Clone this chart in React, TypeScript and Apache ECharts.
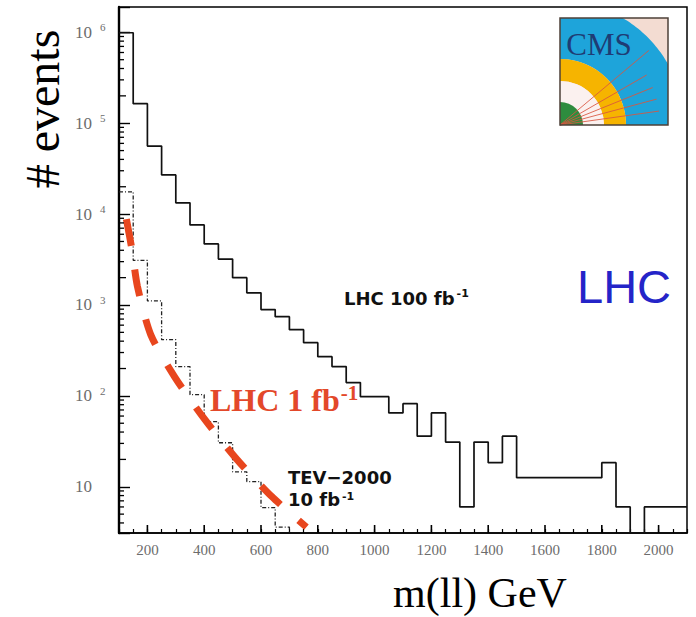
import React, { useEffect, useRef } from 'react';
import * as echarts from 'echarts';

// ---- axis ranges -------------------------------------------------------
const X_MIN = 100;
const X_MAX = 2100;
const BIN_WIDTH = 50; // GeV per histogram bin
const Y_MIN = 3.1;
const Y_MAX = 1.9e6;

// labelled ticks
const xTickLabels = [200, 400, 600, 800, 1000, 1200, 1400, 1600, 1800, 2000];
const yDecades = [10, 100, 1000, 10000, 100000, 1000000];

// ---- data --------------------------------------------------------------
// LHC 100 fb^-1: events per 50 GeV bin, first bin 100-150 GeV (0 = empty bin)
const lhc100Counts = [
  9.9e5, 1.64e5, 5.6e4, 2.7e4, 1.33e4, 7.6e3, 4.7e3, 3.2e3, 2.0e3, 1.36e3,
  890, 743, 535, 385, 270, 210, 140, 98, 98, 65,
  82, 36, 65, 31, 6.0, 31, 18.4, 36, 12.6, 12.6,
  12.6, 12.6, 12.6, 12.6, 18.4, 6.0, 0, 6.0, 6.0, 6.0,
];

// TEV-2000 10 fb^-1: events per 50 GeV bin, first bin 100-150 GeV
const tevCounts = [1.76e4, 3.1e3, 1.11e3, 415, 210, 103, 52, 30.5, 14.6, 11.4, 5.9, 3.6];

// LHC 1 fb^-1 expectation curve
const lhc1Mass = [126, 146, 165, 212, 297, 402, 515, 638, 760];
const lhc1Events = [8800, 4000, 1600, 470, 160, 55, 20, 7.8, 3.6];

// ---- helpers -----------------------------------------------------------
const SERIF = '"Liberation Serif", "DejaVu Serif", serif';
const SANS_W = '"DejaVu Sans", "Liberation Sans", sans-serif';
const SANS = '"Liberation Sans", Arial, sans-serif';
const AXIS_GRAY = '#6c6c6c';

// Histogram outline: one point per left bin edge plus the closing right edge
function stepPoints(counts: number[], closeToFloor: boolean) {
  const pts: number[][] = counts.map((c, i) => [X_MIN + i * BIN_WIDTH, c > 0 ? c : Y_MIN]);
  const last = counts[counts.length - 1];
  const xEnd = X_MIN + counts.length * BIN_WIDTH;
  pts.push([xEnd, last > 0 ? last : Y_MIN]);
  if (closeToFloor) pts.push([xEnd, Y_MIN]);
  return pts;
}

// minor log ticks at 2..9 x 10^k inside the axis range
const yMinorTicks: number[] = [];
for (let k = 0; k <= 6; k++) {
  for (let m = 2; m <= 9; m++) {
    const v = m * Math.pow(10, k);
    if (v > Y_MIN && v < Y_MAX) yMinorTicks.push(v);
  }
}

function isDecade(v: number) {
  const l = Math.log10(v);
  return Math.abs(l - Math.round(l)) < 1e-6 && yDecades.some((d) => Math.abs(Math.log10(d) - l) < 1e-6);
}

// ---- CMS logo geometry -------------------------------------------------
const LOGO = { x: 560, y: 18, w: 108, h: 107 };
const LCX = LOGO.x;
const LCY = LOGO.y + LOGO.h;

function arcPoints(r: number, a0: number, a1: number, n: number) {
  const pts: number[][] = [];
  for (let i = 0; i <= n; i++) {
    const a = ((a0 + ((a1 - a0) * i) / n) * Math.PI) / 180;
    pts.push([LCX + r * Math.cos(a), LCY - r * Math.sin(a)]);
  }
  return pts;
}

function logoElements() {
  const R_OUT = 124;
  const R_IN = 66;
  const aTop = (Math.asin(LOGO.h / R_OUT) * 180) / Math.PI;
  const aRight = (Math.acos(LOGO.w / R_OUT) * 180) / Math.PI;
  const blue = [
    [LOGO.x, LOGO.y],
    ...arcPoints(R_OUT, aTop, aRight, 24),
    [LOGO.x + LOGO.w, LCY],
    ...arcPoints(R_IN, 0, 90, 24),
  ];
  const tracks = [8, 15, 22, 30, 40].map((deg, i) => {
    const a = (deg * Math.PI) / 180;
    const r = i === 4 ? 116 : 100;
    return {
      type: 'line',
      z: 12,
      shape: { x1: LCX, y1: LCY, x2: LCX + r * Math.cos(a), y2: LCY - r * Math.sin(a) },
      style: { stroke: '#d9553e', lineWidth: 1, opacity: 0.85 },
    };
  });
  return [
    { type: 'rect', z: 10, shape: { x: LOGO.x, y: LOGO.y, width: LOGO.w, height: LOGO.h }, style: { fill: '#f3dcd2' } },
    { type: 'polygon', z: 11, shape: { points: blue }, style: { fill: '#1ea4da' } },
    { type: 'sector', z: 11, shape: { cx: LCX, cy: LCY, r0: 44, r: R_IN, startAngle: -Math.PI / 2, endAngle: 0, clockwise: true }, style: { fill: '#f6b400' } },
    { type: 'sector', z: 11, shape: { cx: LCX, cy: LCY, r0: 0, r: 44, startAngle: -Math.PI / 2, endAngle: 0, clockwise: true }, style: { fill: '#fbf1ef' } },
    { type: 'sector', z: 11, shape: { cx: LCX, cy: LCY, r0: 0, r: 23, startAngle: -Math.PI / 2, endAngle: 0, clockwise: true }, style: { fill: '#2e8c3e' } },
    ...tracks,
    {
      type: 'text', z: 13, x: 599, y: 44,
      style: { text: 'CMS', fill: '#1f3c74', fontFamily: SERIF, fontSize: 31, align: 'center', verticalAlign: 'middle', textAlign: 'center', textVerticalAlign: 'middle' },
    },
    { type: 'rect', z: 14, shape: { x: LOGO.x, y: LOGO.y, width: LOGO.w, height: LOGO.h }, style: { fill: 'none', stroke: '#4d4038', lineWidth: 1.5 } },
  ];
}

function buildOption() {
  return {
    animation: false,
    backgroundColor: '#ffffff',
    grid: {
      left: 119, right: 9, top: 7, bottom: 84,
      show: true, borderColor: '#000', borderWidth: 1.5,
      containLabel: false, outerBoundsMode: 'none',
    },
    xAxis: {
      type: 'value', min: X_MIN, max: X_MAX, interval: BIN_WIDTH,
      axisLine: { show: true, lineStyle: { color: '#000', width: 1.6 } },
      axisTick: { show: true, inside: true, length: 4, lineStyle: { color: '#000', width: 1.2 } },
      axisLabel: {
        formatter: (v: number) => (xTickLabels.includes(v) ? String(v) : ''),
        fontFamily: SERIF, fontSize: 15, color: AXIS_GRAY, margin: 9,
      },
      splitLine: { show: false },
    },
    yAxis: {
      type: 'log', logBase: 10, min: Y_MIN, max: Y_MAX,
      axisLine: { show: true, lineStyle: { color: '#000', width: 2.4 } },
      axisTick: { show: true, inside: true, length: 11, lineStyle: { color: '#000', width: 1.4 } },
      axisLabel: {
        align: 'left', margin: 44,
        formatter: (v: number) => {
          if (!isDecade(v)) return '';
          const e = Math.round(Math.log10(v));
          return e === 1 ? '{b|10}' : `{b|10}{s|${e}}`;
        },
        rich: {
          b: { fontFamily: SERIF, fontSize: 17, color: AXIS_GRAY },
          s: { fontFamily: SERIF, fontSize: 11, color: AXIS_GRAY, padding: [0, 0, 10, 8] },
        },
      },
      splitLine: { show: false },
    },
    series: [
      {
        name: 'LHC 100 fb-1', type: 'line', step: 'end', z: 3,
        data: stepPoints(lhc100Counts, false),
        showSymbol: false, symbol: 'none', clip: true,
        lineStyle: { color: '#111', width: 1.7 },
      },
      {
        name: 'TEV-2000 10 fb-1', type: 'line', step: 'end', z: 3,
        data: stepPoints(tevCounts, true),
        showSymbol: false, symbol: 'none', clip: true,
        lineStyle: { color: '#222', width: 1.3, type: [4, 2, 1, 2] },
      },
      {
        name: 'LHC 1 fb-1', type: 'line', smooth: 0.25, z: 4,
        data: lhc1Mass.map((m, i) => [m, lhc1Events[i]]),
        showSymbol: false, symbol: 'none', clip: true,
        lineStyle: { color: '#e8461e', width: 7, type: [27, 24], cap: 'butt' },
      },
      {
        name: 'y minor ticks', type: 'custom', silent: true, z: 5,
        data: yMinorTicks.map((v) => [X_MIN, v]),
        encode: { x: 0, y: 1 },
        renderItem: (_p: any, api: any) => {
          const v = api.value(1) as number;
          const pt = api.coord([X_MIN, v]);
          const mant = Math.round(v / Math.pow(10, Math.floor(Math.log10(v) + 1e-9)));
          const len = mant === 2 ? 7 : 5;
          return {
            type: 'line',
            shape: { x1: pt[0], y1: pt[1], x2: pt[0] + len, y2: pt[1] },
            style: { stroke: '#000', lineWidth: 1.3 },
          };
        },
      },
      {
        name: 'x major ticks', type: 'custom', silent: true, z: 5,
        data: xTickLabels.map((v) => [v, Y_MIN]),
        encode: { x: 0, y: 1 },
        renderItem: (_p: any, api: any) => {
          const pt = api.coord([api.value(0), Y_MIN]);
          return {
            type: 'line',
            shape: { x1: pt[0], y1: pt[1], x2: pt[0], y2: pt[1] - 8 },
            style: { stroke: '#000', lineWidth: 1.6 },
          };
        },
      },
    ],
    graphic: [
      {
        type: 'text', z: 20, x: 42, y: 109, rotation: Math.PI / 2,
        style: { text: '# events', fill: '#000', fontFamily: SERIF, fontSize: 48, align: 'center', verticalAlign: 'middle', textAlign: 'center', textVerticalAlign: 'middle' },
      },
      {
        type: 'text', z: 20, x: 480, y: 593,
        style: { text: 'm(ll) GeV', fill: '#000', fontFamily: SERIF, fontSize: 42, align: 'center', verticalAlign: 'middle', textAlign: 'center', textVerticalAlign: 'middle' },
      },
      {
        type: 'text', z: 20, x: 344, y: 298,
        style: {
          text: '{a|LHC 100 fb}{s|-1}', verticalAlign: 'middle', textVerticalAlign: 'middle',
          rich: {
            a: { fontFamily: SANS_W, fontWeight: 'bold', fontSize: 18, fill: '#111', color: '#111' },
            s: { fontFamily: SANS_W, fontWeight: 'bold', fontSize: 11, fill: '#111', color: '#111', padding: [0, 0, 9, 2] },
          },
        },
      },
      {
        type: 'text', z: 20, x: 288, y: 477,
        style: { text: 'TEV\u22122000', fill: '#111', fontFamily: SANS_W, fontWeight: 'bold', fontSize: 18, verticalAlign: 'middle', textVerticalAlign: 'middle' },
      },
      {
        type: 'text', z: 20, x: 288, y: 499,
        style: {
          text: '{a|10 fb}{s|-1}', verticalAlign: 'middle', textVerticalAlign: 'middle',
          rich: {
            a: { fontFamily: SANS_W, fontWeight: 'bold', fontSize: 18, fill: '#111', color: '#111' },
            s: { fontFamily: SANS_W, fontWeight: 'bold', fontSize: 11, fill: '#111', color: '#111', padding: [0, 0, 6, 2] },
          },
        },
      },
      {
        type: 'text', z: 20, x: 210, y: 400,
        style: {
          text: '{a|LHC 1 fb}{s|-1}', verticalAlign: 'middle', textVerticalAlign: 'middle',
          rich: {
            a: { fontFamily: SERIF, fontWeight: 'bold', fontSize: 32, fill: '#e3482a', color: '#e3482a' },
            s: { fontFamily: SERIF, fontWeight: 'bold', fontSize: 21, fill: '#e3482a', color: '#e3482a', padding: [0, 0, 14, 1] },
          },
        },
      },
      {
        type: 'text', z: 20, x: 577, y: 286,
        style: { text: 'LHC', fill: '#2424c8', fontFamily: SANS, fontSize: 47, verticalAlign: 'middle', textVerticalAlign: 'middle' },
      },
      ...logoElements(),
    ],
  };
}

export default function App() {
  const ref = useRef<HTMLDivElement>(null);
  useEffect(() => {
    if (!ref.current) return;
    const chart = echarts.init(ref.current, null, { renderer: 'svg' });
    chart.setOption(buildOption() as any);
    return () => chart.dispose();
  }, []);
  return (
    <div
      ref={ref}
      style={{ position: 'absolute', left: 0, top: 0, width: 696, height: 617, background: '#fff' }}
    />
  );
}
